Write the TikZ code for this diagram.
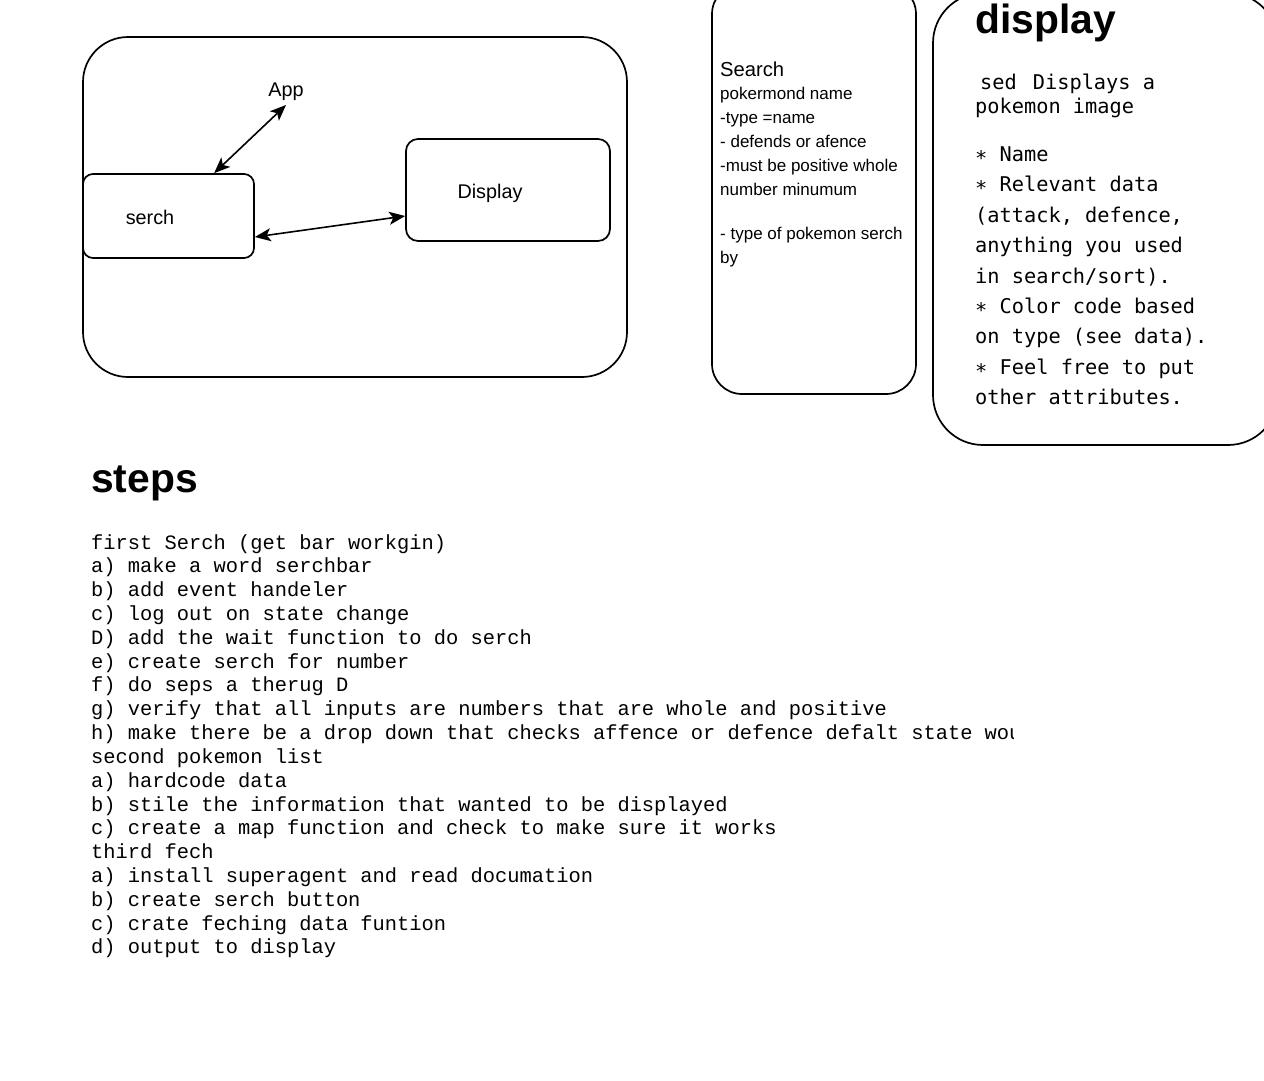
\documentclass[tikz,border=0pt]{standalone}
\usepackage{fontspec}
\setmainfont{Liberation Sans}
\newfontfamily\menlo{DejaVu Sans Mono}
\newfontfamily\courier{Liberation Mono}
\usetikzlibrary{arrows.meta}
\begin{document}
\begin{tikzpicture}[x=1pt,y=-1pt,
  box/.style={draw, line width=1.7pt, inner sep=0pt},
  lbl/.style={font=\fontsize{19.8}{23}\selectfont, inner sep=0pt},
  sline/.style={font=\fontsize{17}{24}\selectfont, inner sep=0pt, anchor=base west},
  mline/.style={font=\menlo\fontsize{20.3}{30}\selectfont, inner sep=0pt, anchor=base west},
  cline/.style={font=\courier\fontsize{20.4}{24}\selectfont, inner sep=0pt, anchor=base west},
  head/.style={font=\bfseries\fontsize{40.8}{44}\selectfont, inner sep=0pt, anchor=base west},
  dbl/.style={{Stealth[length=16pt,width=13pt,inset=4pt]}-{Stealth[length=16pt,width=13pt,inset=4pt]}, line width=1.6pt}]
\useasboundingbox (0,0) rectangle (1264,1080);
\clip (0,0) rectangle (1264,1080);

% App diagram
\node[box, rounded corners=45pt, minimum width=544pt, minimum height=340pt] (appbox) at (355,207) {};
\node[box, rounded corners=10pt, minimum width=171pt, minimum height=84pt] (serchbox) at (168.5,216) {};
\node[box, rounded corners=12pt, minimum width=204pt, minimum height=102pt] (dispbox) at (508,190) {};
\node[lbl] (app) at (286,91.5) {App};
\node[lbl] (serch) at (150,217) {serch};
\node[lbl] (disp) at (490,193) {Display};
\coordinate (append) at ([yshift=-13.5pt]app.center);
\coordinate (serchtop) at ([xshift=132pt]serchbox.north west);
\coordinate (serchright) at ([yshift=-21pt]serchbox.east);
\coordinate (displeft) at ([yshift=-26pt]dispbox.west);
\draw[dbl] (append) -- (serchtop);
\draw[dbl] (serchright) -- (displeft);

% Search box
\node[box, rounded corners=30pt, minimum width=204pt, minimum height=410pt] (searchbox) at (814,189) {};
\node[inner sep=0pt, anchor=base west, font=\fontsize{20.2}{24}\selectfont] (s0) at (720,76) {Search};
\node[sline] (s1) at (720,99) {pokermond name};
\node[sline] (s2) at (720,123) {-type =name};
\node[sline] (s3) at (720,147) {- defends or afence};
\node[sline] (s4) at (720,171) {-must be positive whole};
\node[sline] (s5) at (720,195) {number minumum};
\node[sline] (s6) at (720,239) {- type of pokemon serch};
\node[sline] (s7) at (720,263) {by};

% display box
\node[box, rounded corners=50pt, minimum width=345pt, minimum height=452pt] (displaybox) at (1105.5,219) {};
\node[head] (dh) at (975,33) {display};
\node[mline] (d1) at (975,89) {\hspace{5pt}sed\hspace{16pt}Displays a};
\node[mline] (d2) at (975,113) {pokemon image};
\node[mline] (d3) at (975,161) {∗ Name};
\node[mline] (d4) at (975,191) {∗ Relevant data};
\node[mline] (d5) at (975,222) {(attack, defence,};
\node[mline] (d6) at (975,252) {anything you used};
\node[mline] (d7) at (975,283) {in search/sort).};
\node[mline] (d8) at (975,313) {∗ Color code based};
\node[mline] (d9) at (975,343) {on type (see data).};
\node[mline] (d10) at (975,374) {∗ Feel free to put};
\node[mline] (d11) at (975,404) {other attributes.};

% steps
\node[head] (steps) at (91,492) {steps};
\begin{scope}
\clip (80,520) rectangle (1013,1000);
\foreach \t [count=\i] in {
  {first Serch (get bar workgin)},
  {a) make a word serchbar},
  {b) add event handeler},
  {c) log out on state change},
  {D) add the wait function to do serch},
  {e) create serch for number},
  {f) do seps a therug D},
  {g) verify that all inputs are numbers that are whole and positive},
  {h) make there be a drop down that checks affence or defence defalt state would be},
  {second pokemon list},
  {a) hardcode data},
  {b) stile the information that wanted to be displayed},
  {c) create a map function and check to make sure it works},
  {third fech},
  {a) install superagent and read documation},
  {b) create serch button},
  {c) crate feching data funtion},
  {d) output to display}}
  \node[cline] (st\i) at (91,{549+23.82*(\i-1)}) {\t};
\end{scope}
\end{tikzpicture}
\end{document}
